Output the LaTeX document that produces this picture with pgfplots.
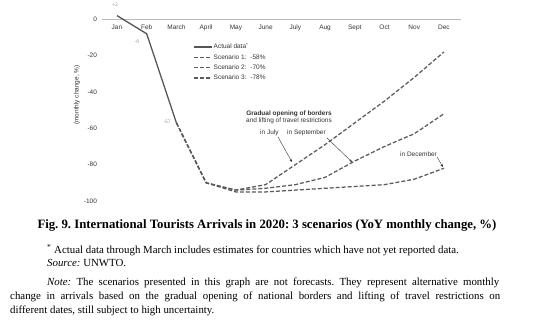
\documentclass[border=0pt]{standalone}
\usepackage{fontspec}
\setmainfont{Liberation Serif}
\newfontfamily\chartfont{Liberation Sans}
\usepackage{pgfplots}
\pgfplotsset{compat=1.18}
\usetikzlibrary{arrows.meta}
\definecolor{linegray}{HTML}{555555}
\definecolor{dashgray}{HTML}{5A5A5A}
\definecolor{axisgray}{HTML}{BBBBBB}
\definecolor{textgray}{HTML}{333333}
\definecolor{lablgray}{HTML}{9A9A9A}
\newcommand{\cf}{\chartfont\fontsize{6.5}{7.5}\selectfont}
\newcommand{\cfs}{\chartfont\fontsize{6.5}{7.3}\selectfont}
\frenchspacing
\begin{document}
\begin{tikzpicture}[x=1bp,y=1bp]
\path[use as bounding box] (0,0) rectangle (541,321);
\begin{axis}[
  at={(102.1bp,110.9bp)}, anchor=south west,
  scale only axis, width=358.8bp, height=205.4bp,
  xmin=0.5, xmax=12.57, ymin=-105, ymax=8,
  axis x line=middle, axis y line=left,
  x axis line style={-, draw=axisgray, line width=0.9bp},
  y axis line style={draw=none},
  hide obscured x ticks=false, hide obscured y ticks=false,
  xtick={1,2,3,4,5,6,7,8,9,10,11,12},
  xticklabels={Jan,Feb,March,April,May,June,July,Aug,Sept,Oct,Nov,Dec},
  ytick={-100,-80,-60,-40,-20,0},
  yticklabels={-100,-80,-60,-40,-20,0},
  major tick length=0pt,
  tick style={draw=none},
  ticklabel style={font=\cf, text=textgray},
  xticklabel style={anchor=north, yshift=-2bp},
  yticklabel style={anchor=east, inner sep=0pt, xshift=-5bp},
  clip=false,
  legend style={draw=none, fill=none, at={(0.254,0.812)}, anchor=north west,
    font=\cf, text=textgray, row sep=3.3bp, inner sep=0pt,
    nodes={inner xsep=1bp, inner ysep=0.5bp, text height=4.8bp, text depth=1.2bp}},
  legend cell align=left,
  legend image code/.code={\draw[#1] (0bp,0bp) -- (18bp,0bp);},
]
\addplot[linegray, line width=1.3bp] coordinates {(1,2) (2,-8) (3,-57)};
\addlegendentry{Actual data\textsuperscript{*}}
\addplot[dashgray, line width=1.25bp, dash pattern=on 4bp off 2bp] coordinates {
 (3,-57) (4,-90) (5,-94) (6,-91) (7,-80) (8,-69) (9,-57) (10,-45) (11,-32) (12,-18)};
\addlegendentry{Scenario 1:\hspace{4bp}-58\%}
\addplot[dashgray, line width=1.25bp, dash pattern=on 4bp off 2bp] coordinates {
 (3,-57) (4,-90) (5,-94) (6,-93) (7,-91) (8,-87) (9,-78) (10,-70) (11,-63) (12,-52)};
\addlegendentry{Scenario 2:\hspace{4bp}-70\%}
\addplot[dashgray, line width=1.25bp, dash pattern=on 4bp off 2bp] coordinates {
 (3,-57) (4,-90) (5,-95) (6,-95) (7,-94) (8,-93) (9,-92) (10,-91) (11,-88) (12,-82)};
\addlegendentry{Scenario 3:\hspace{4bp}-78\%}
\end{axis}
% y label
\node[rotate=90, font=\cf, text=textgray] at (77,226) {(monthly change, \%)};
% data labels
\node[font=\chartfont\fontsize{5}{6}\selectfont, text=lablgray] at (115,316) {+2};
\node[font=\chartfont\fontsize{5}{6}\selectfont, text=lablgray] at (137,279) {-9};
\node[font=\chartfont\fontsize{5}{6}\selectfont, text=lablgray] at (167,199) {-57};
% annotations
\node[align=center, font=\cfs, text=textgray, inner sep=0pt] at (289,203.5)
  {\textbf{Gradual opening of borders}\\and lifting of travel restrictions};
\node[anchor=west, font=\cfs, text=textgray, inner sep=0pt] at (260,188) {in July};
\node[anchor=west, font=\cfs, text=textgray, inner sep=0pt] at (287,188) {in September};
\node[anchor=west, font=\cfs, text=textgray, inner sep=0pt] at (400,167) {in December};
\draw[textgray, line width=0.4bp, -{Stealth[length=3bp,width=2.5bp]}] (278,184) -- (292,159);
\draw[textgray, line width=0.4bp, -{Stealth[length=3bp,width=2.5bp]}] (327,183) -- (352,159);
\draw[textgray, line width=0.4bp, -{Stealth[length=3bp,width=2.5bp]}] (437,164) -- (443,154);
% caption
\node[anchor=base, font=\fontsize{12.8}{14}\selectfont\bfseries, inner sep=0pt] at (267,92.5)
  {Fig. 9. International Tourists Arrivals in 2020: 3 scenarios (YoY monthly change, \%)};
\node[anchor=base west, font=\fontsize{10.9}{12}\selectfont, inner sep=0pt] at (47,67.5)
  {\textsuperscript{*} Actual data through March includes estimates for countries which have not yet reported data.};
\node[anchor=base west, font=\fontsize{10.9}{12}\selectfont, inner sep=0pt] at (47,54.5)
  {\textit{Source:} UNWTO.};
\node[anchor=base west, font=\fontsize{10.9}{12}\selectfont, inner sep=0pt] at (47,35.5)
  {\makebox[452bp][s]{\textit{Note:} The scenarios presented in this graph are not forecasts. They represent alternative monthly}};
\node[anchor=base west, font=\fontsize{10.9}{12}\selectfont, inner sep=0pt] at (10,21.5)
  {\makebox[490bp][s]{change in arrivals based on the gradual opening of national borders and lifting of travel restrictions on}};
\node[anchor=base west, font=\fontsize{10.9}{12}\selectfont, inner sep=0pt] at (10,8)
  {different dates, still subject to high uncertainty.};
\end{tikzpicture}
\end{document}
